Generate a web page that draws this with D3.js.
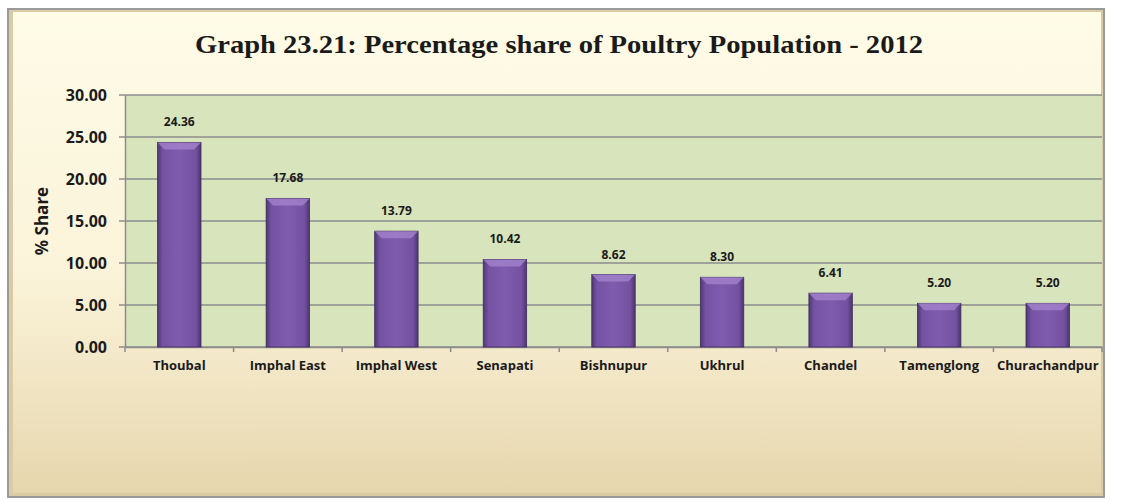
<!DOCTYPE html>
<html>
<head>
<meta charset="utf-8">
<script src="https://cdn.jsdelivr.net/npm/d3@7"></script>
<style>
  html, body { margin: 0; padding: 0; background: #ffffff; }
  svg { display: block; }
</style>
</head>
<body>
<script>
var districts = ['Thoubal', 'Imphal East', 'Imphal West', 'Senapati', 'Bishnupur', 'Ukhrul', 'Chandel', 'Tamenglong', 'Churachandpur'];
var shares = [24.36, 17.68, 13.79, 10.42, 8.62, 8.30, 6.41, 5.20, 5.20];
var yTicks = [0, 5, 10, 15, 20, 25, 30];
var chartTitle = 'Graph 23.21: Percentage share of Poultry Population - 2012';
var yTitle = '% Share';

var width = 1125, height = 501;
var plot = {left: 125, top: 95, right: 1102, bottom: 347};
var labelFont = '"Open Sans", Lato, sans-serif';

var svg = d3.select('body').append('svg')
    .attr('width', width)
    .attr('height', height);

var defs = svg.append('defs');

var bg = defs.append('linearGradient').attr('id', 'bg').attr('x1', 0).attr('y1', 0).attr('x2', 0).attr('y2', 1);
bg.append('stop').attr('offset', '0%').attr('stop-color', '#fefbe7');
bg.append('stop').attr('offset', '55%').attr('stop-color', '#fbf3d9');
bg.append('stop').attr('offset', '100%').attr('stop-color', '#e6d6ad');

var barGrad = defs.append('linearGradient').attr('id', 'barGrad').attr('x1', 0).attr('y1', 0).attr('x2', 1).attr('y2', 0);
barGrad.append('stop').attr('offset', '0%').attr('stop-color', '#4f3775');
barGrad.append('stop').attr('offset', '12%').attr('stop-color', '#7553a3');
barGrad.append('stop').attr('offset', '50%').attr('stop-color', '#7f5cae');
barGrad.append('stop').attr('offset', '88%').attr('stop-color', '#7452a1');
barGrad.append('stop').attr('offset', '100%').attr('stop-color', '#4c3570');

// outer frame
svg.append('rect')
    .attr('x', 7).attr('y', 8)
    .attr('width', 1098).attr('height', 490)
    .attr('fill', '#9a9a9a');
svg.append('rect')
    .attr('x', 9).attr('y', 10)
    .attr('width', 1094).attr('height', 486)
    .attr('fill', '#d9cba3');
svg.append('rect')
    .attr('x', 13).attr('y', 12)
    .attr('width', 1088).attr('height', 481)
    .attr('fill', 'url(#bg)');

svg.append('text')
    .attr('x', 559).attr('y', 53)
    .attr('text-anchor', 'middle')
    .attr('font-family', '"Liberation Serif", "DejaVu Serif", serif')
    .attr('font-weight', 'bold')
    .attr('font-size', 25)
    .attr('fill', '#1a1a1a')
    .attr('textLength', 728)
    .attr('lengthAdjust', 'spacingAndGlyphs')
    .text(chartTitle);

var x = d3.scaleBand()
    .domain(districts)
    .range([plot.left, plot.right])
    .paddingInner(0.6)
    .paddingOuter(0.3);

var y = d3.scaleLinear()
    .domain([0, 30])
    .range([plot.bottom, plot.top]);

svg.append('rect')
    .attr('x', plot.left).attr('y', plot.top)
    .attr('width', plot.right - plot.left).attr('height', plot.bottom - plot.top)
    .attr('fill', '#d8e4bc');

// grid lines
svg.append('g')
    .selectAll('line')
    .data(yTicks)
    .join('line')
    .attr('x1', plot.left - 6).attr('x2', plot.right)
    .attr('y1', function(d) { return y(d); })
    .attr('y2', function(d) { return y(d); })
    .attr('stroke', '#8c8c8c')
    .attr('stroke-width', 1.5);

var yAxis = svg.append('g')
    .attr('transform', 'translate(' + plot.left + ',0)')
    .call(d3.axisLeft(y).tickValues(yTicks).tickSize(0).tickPadding(18).tickFormat(d3.format('.2f')));
yAxis.select('.domain').attr('stroke', '#8c8c8c').attr('stroke-width', 1.5);
yAxis.selectAll('text')
    .attr('font-family', labelFont)
    .attr('font-weight', 'bold')
    .attr('font-size', 16)
    .attr('fill', '#1a1a1a');

// x axis ticks at band boundaries
var boundaries = d3.range(districts.length + 1).map(function(i) { return plot.left + i * (plot.right - plot.left) / districts.length; });
svg.append('g')
    .selectAll('line')
    .data(boundaries)
    .join('line')
    .attr('x1', function(d) { return d; }).attr('x2', function(d) { return d; })
    .attr('y1', plot.bottom).attr('y2', plot.bottom + 5)
    .attr('stroke', '#8c8c8c')
    .attr('stroke-width', 1.5);

var xAxis = svg.append('g')
    .attr('transform', 'translate(0,' + plot.bottom + ')')
    .call(d3.axisBottom(x).tickSize(0).tickPadding(14));
xAxis.select('.domain').attr('stroke', '#8c8c8c').attr('stroke-width', 1.5);
xAxis.selectAll('text')
    .attr('font-family', labelFont)
    .attr('font-weight', 'bold')
    .attr('font-size', 13)
    .attr('fill', '#1a1a1a');

// bars
var bars = svg.append('g')
    .selectAll('g')
    .data(districts)
    .join('g');

bars.append('rect')
    .attr('x', function(d) { return x(d); })
    .attr('y', function(d, i) { return y(shares[i]); })
    .attr('width', x.bandwidth())
    .attr('height', function(d, i) { return y(0) - y(shares[i]); })
    .attr('fill', 'url(#barGrad)')
    .attr('stroke', '#3f2b5e')
    .attr('stroke-width', 0.8);

// top bevel
bars.append('path')
    .attr('d', function(d, i) {
        var x0 = x(d), x1 = x(d) + x.bandwidth(), t = y(shares[i]), b = 7;
        return 'M' + x0 + ',' + t + 'L' + x1 + ',' + t + 'L' + (x1 - b) + ',' + (t + b) + 'L' + (x0 + b) + ',' + (t + b) + 'Z';
    })
    .attr('fill', '#a585cf')
    .attr('opacity', 0.75);

bars.append('text')
    .attr('x', function(d) { return x(d) + x.bandwidth() / 2; })
    .attr('y', function(d, i) { return y(shares[i]) - 16; })
    .attr('text-anchor', 'middle')
    .attr('font-family', labelFont)
    .attr('font-weight', 'bold')
    .attr('font-size', 12)
    .attr('fill', '#1a1a1a')
    .text(function(d, i) { return shares[i].toFixed(2); });

svg.append('text')
    .attr('transform', 'translate(48,' + ((plot.top + plot.bottom) / 2) + ') rotate(-90)')
    .attr('text-anchor', 'middle')
    .attr('font-family', labelFont)
    .attr('font-weight', 'bold')
    .attr('font-size', 17)
    .attr('fill', '#1a1a1a')
    .text(yTitle);
</script>
</body>
</html>
